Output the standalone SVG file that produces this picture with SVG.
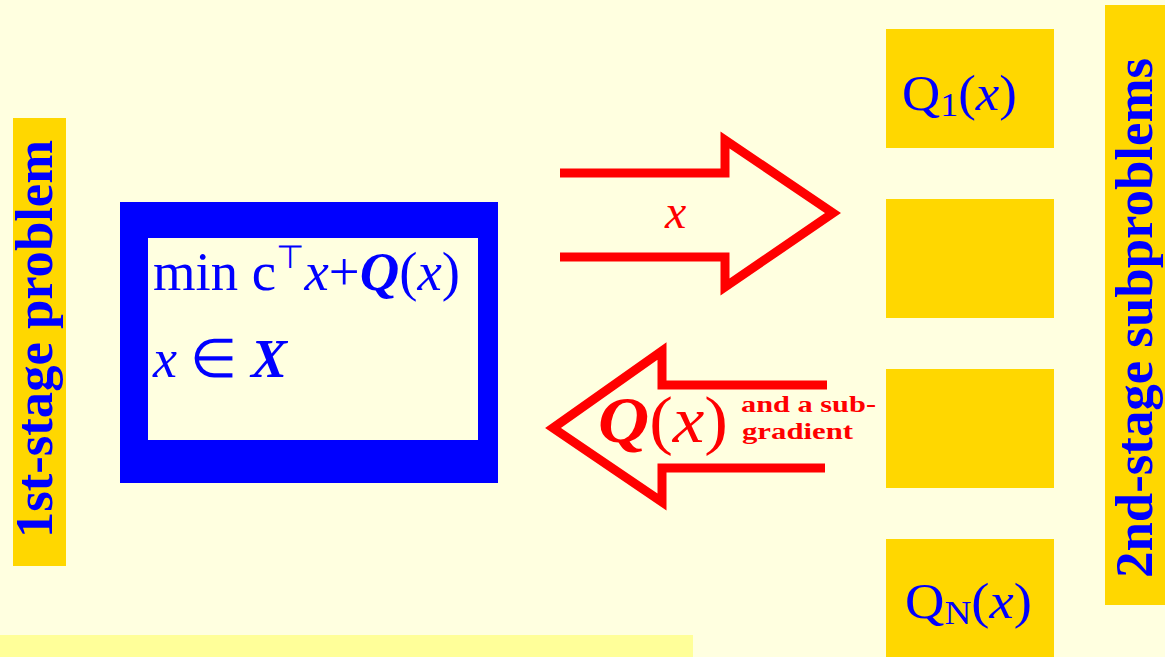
<svg xmlns="http://www.w3.org/2000/svg" width="1165" height="657" viewBox="0 0 1165 657">
<style>
.lbl{font-family:"Liberation Serif","Times New Roman",serif;font-weight:bold;font-size:52px;fill:#0000FF}
.math{font-family:"Liberation Serif","Times New Roman",serif;fill:#0000FF}
.it{font-style:italic}
.cal{font-style:italic;font-weight:bold}
.arrow{fill:none;stroke:#FF0000;stroke-width:9;stroke-linejoin:miter;stroke-miterlimit:10}
.box{fill:#FFD700}
</style>
<rect width="1165" height="657" fill="#FFFFE0"/>
<rect x="0" y="635" width="693" height="22" fill="#FFFF99"/>
<g id="label-first">
<rect class="box" x="13" y="118" width="53" height="448"/>
<text class="lbl" transform="translate(52,538) rotate(-90)" textLength="398" lengthAdjust="spacingAndGlyphs">1st-stage problem</text>
</g>
<g id="first-stage">
<rect x="120" y="202" width="378" height="281" fill="#0000FF"/>
<rect x="148" y="238" width="330" height="202" fill="#FFFFE0"/>
<text class="math" x="153" y="290" font-size="54" textLength="307" lengthAdjust="spacingAndGlyphs">min c<tspan font-size="32" dy="-22">⊤</tspan><tspan class="it" dy="22">x</tspan>+<tspan class="cal">Q</tspan>(<tspan class="it">x</tspan>)</text>
<text class="math" x="153" y="377" font-size="54"><tspan class="it">x</tspan> ∈ <tspan class="cal">X</tspan></text>
</g>
<g id="label-second">
<rect class="box" x="1105" y="5" width="60" height="600"/>
<text class="lbl" transform="translate(1152,578) rotate(-90)" textLength="520" lengthAdjust="spacingAndGlyphs">2nd-stage subproblems</text>
</g>
<g id="sub1">
<rect class="box" x="886" y="29" width="168" height="119"/>
<text class="math" x="902" y="110" font-size="50" textLength="115" lengthAdjust="spacingAndGlyphs">Q<tspan font-size="34" dy="6">1</tspan><tspan dy="-6">(</tspan><tspan class="it">x</tspan>)</text>
</g>
<g id="sub2">
<rect class="box" x="886" y="199" width="168" height="119"/>
</g>
<g id="sub3">
<rect class="box" x="886" y="369" width="168" height="119"/>
</g>
<g id="subN">
<rect class="box" x="886" y="539" width="168" height="118"/>
<text class="math" x="905" y="618" font-size="50" textLength="127" lengthAdjust="spacingAndGlyphs">Q<tspan font-size="34" dy="6">N</tspan><tspan dy="-6">(</tspan><tspan class="it">x</tspan>)</text>
</g>
<g id="connectors">
<polyline class="arrow" points="560,173 725,173 725,140 833,213 725,287 725,257 560,257"/>
<text x="665" y="228" font-family="Liberation Serif,serif" font-style="italic" font-size="48" fill="#FF0000">x</text>
<polyline class="arrow" points="827,385 662,385 662,351 553,428 662,502 662,468 825,468"/>
<text x="598" y="442" font-family="Liberation Serif,serif" font-size="66" fill="#FF0000" textLength="130" lengthAdjust="spacingAndGlyphs"><tspan font-style="italic" font-weight="bold">Q</tspan>(<tspan font-style="italic">x</tspan>)</text>
<text font-family="Liberation Serif,serif" font-weight="bold" font-size="24" fill="#FF0000"><tspan x="741" y="412" textLength="135" lengthAdjust="spacingAndGlyphs">and a sub-</tspan><tspan x="742" y="439" textLength="111" lengthAdjust="spacingAndGlyphs">gradient</tspan></text>
</g>
</svg>
